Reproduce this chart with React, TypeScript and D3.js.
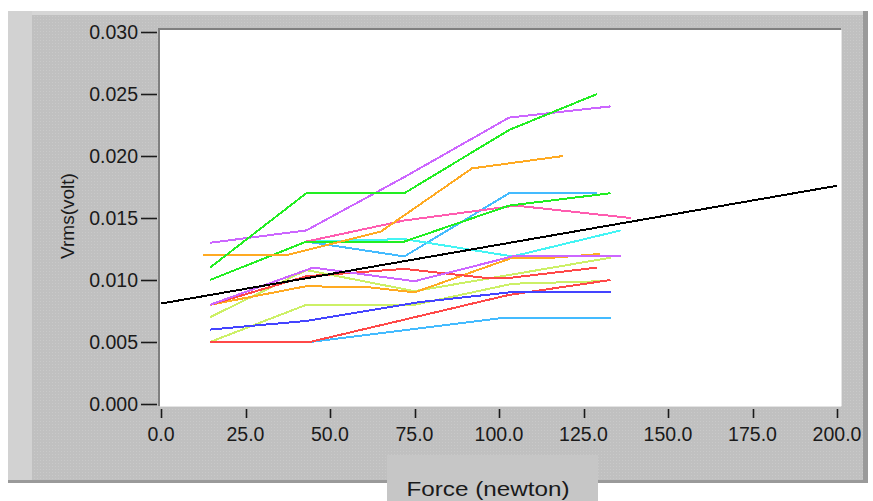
import React from "react";
import * as d3 from "d3";

// Tick values
const forceTicks = [0, 25, 50, 75, 100, 125, 150, 175, 200];
const voltTicks = [0, 0.005, 0.01, 0.015, 0.02, 0.025, 0.03];

// Measured curves: [force (N), Vrms (V)]
const greenUpper = [[14.5, 0.011], [43, 0.017], [72, 0.017], [103, 0.0221], [129, 0.025]];
const violetUpper = [[14.5, 0.013], [43, 0.014], [72, 0.0183], [103, 0.0231], [133, 0.024]];
const orangeUpper = [[12.5, 0.012], [37, 0.012], [65, 0.0139], [92, 0.019], [119, 0.02]];
const skyUpper = [[43, 0.0131], [72, 0.0119], [103, 0.017], [129, 0.017]];
const pink = [[14.5, 0.01], [43, 0.0131], [72, 0.0148], [105, 0.016], [139, 0.015]];
const greenMid = [[14.5, 0.01], [43, 0.0131], [72, 0.0131], [103, 0.016], [133, 0.017]];
const cyan = [[43, 0.0131], [72, 0.0133], [104, 0.0119], [136, 0.014]];
const violetLower = [[14.5, 0.008], [45, 0.011], [75, 0.0099], [104, 0.0119], [136, 0.0119]];
const redUpper = [[14.5, 0.008], [43, 0.0103], [72, 0.0109], [95, 0.0102], [104, 0.0102], [129, 0.011]];
const orangeLower = [[14.5, 0.008], [43, 0.0095], [62, 0.0094], [75, 0.009], [104, 0.0118], [116, 0.0118], [130, 0.0121]];
const limeUpper = [[14.5, 0.007], [43, 0.0108], [75, 0.0091], [133, 0.0118]];
const limeLower = [[14.5, 0.005], [43, 0.008], [75, 0.008], [104, 0.0097], [130, 0.0099]];
const blue = [[14.5, 0.006], [43, 0.0067], [76, 0.0082], [103, 0.009], [133, 0.009]];
const skyLower = [[14.5, 0.005], [44, 0.005], [100, 0.0069], [133, 0.0069]];
const redLower = [[14.5, 0.005], [44, 0.005], [103, 0.0088], [133, 0.01]];
const fitLine = [[0, 0.0081], [200, 0.0176]];

const curves: { data: number[][]; color: string }[] = [
  { data: skyUpper, color: "#44bbff" },
  { data: cyan, color: "#44f4f4" },
  { data: pink, color: "#ff5cb0" },
  { data: greenMid, color: "#22ee22" },
  { data: orangeUpper, color: "#ffaa22" },
  { data: violetUpper, color: "#cc66ff" },
  { data: greenUpper, color: "#22ee22" },
  { data: limeLower, color: "#ccf066" },
  { data: skyLower, color: "#44bbff" },
  { data: redLower, color: "#ff4848" },
  { data: blue, color: "#4444ff" },
  { data: limeUpper, color: "#ccf066" },
  { data: orangeLower, color: "#ffaa22" },
  { data: redUpper, color: "#ff4848" },
  { data: violetLower, color: "#cc66ff" },
  { data: fitLine, color: "#000000" },
];

const W = 873;
const H = 501;
const plot = { left: 160, top: 30, right: 841, bottom: 406 };

const x = d3.scaleLinear().domain([0, 200]).range([161, 837]);
const y = d3.scaleLinear().domain([0, 0.03]).range([404, 32]);

const line = d3
  .line<number[]>()
  .x((d) => x(d[0]))
  .y((d) => y(d[1]));

const font = "'Liberation Sans', Arial, sans-serif";

export default function App() {
  return (
    <svg
      width={W}
      height={H}
      style={{ position: "absolute", left: 0, top: 0 }}
      fontFamily={font}
    >
      <defs>
        <pattern id="dots" width="3" height="3" patternUnits="userSpaceOnUse">
          <rect width="3" height="3" fill="#c0c0c0" />
          <rect x="1" y="1" width="1" height="1" fill="#c9c9c9" />
        </pattern>
      </defs>
      <rect width={W} height={H} fill="#ffffff" />
      {/* panel */}
      <rect x={8} y={11} width={860} height={472} fill="url(#dots)" />
      <rect x={8} y={11} width={860} height={4} fill="#d6d6d6" />
      <rect x={8} y={11} width={24} height={472} fill="#d2d2d2" />
      <rect x={863} y={11} width={5} height={472} fill="#9a9a9a" />
      <rect x={8} y={480} width={860} height={3} fill="#9a9a9a" />

      {/* plot area */}
      <rect
        x={plot.left}
        y={plot.top}
        width={plot.right - plot.left}
        height={plot.bottom - plot.top}
        fill="#ffffff"
      />
      <line x1={plot.left - 1} x2={plot.left - 1} y1={plot.top - 2} y2={plot.bottom} stroke="#7f7f7f" strokeWidth={2} />
      <line x1={plot.left - 2} x2={plot.right} y1={plot.top - 1} y2={plot.top - 1} stroke="#7f7f7f" strokeWidth={2} />
      <line x1={plot.right + 0.5} x2={plot.right + 0.5} y1={plot.top} y2={plot.bottom} stroke="#e4e4e4" />
      <line x1={plot.left} x2={plot.right} y1={plot.bottom + 0.5} y2={plot.bottom + 0.5} stroke="#e4e4e4" />

      {/* curves */}
      <g fill="none" shapeRendering="crispEdges">
        {curves.map((c, i) => (
          <path key={i} d={line(c.data as any) || ""} stroke={c.color} strokeWidth={2} />
        ))}
      </g>

      {/* y axis */}
      <g>
        {voltTicks.map((t) => (
          <g key={t}>
            <line x1={141} x2={157} y1={Math.round(y(t)) + 0.5} y2={Math.round(y(t)) + 0.5} stroke="#1a1a1a" strokeWidth={1.6} />
            <text x={138} y={y(t) + 7} textAnchor="end" fontSize={19.5} fill="#1a1a1a">
              {t.toFixed(3)}
            </text>
          </g>
        ))}
      </g>

      {/* x axis */}
      <g>
        {forceTicks.map((t) => (
          <g key={t}>
            <line x1={Math.round(x(t)) + 0.5} x2={Math.round(x(t)) + 0.5} y1={409} y2={418} stroke="#1a1a1a" strokeWidth={1.6} />
            <text x={x(t)} y={441} textAnchor="middle" fontSize={19.5} fill="#1a1a1a">
              {t.toFixed(1)}
            </text>
          </g>
        ))}
      </g>

      {/* axis titles */}
      <text
        transform={`translate(74, 216) rotate(-90)`}
        textAnchor="middle"
        fontSize={19}
        fill="#1a1a1a"
      >
        Vrms(volt)
      </text>
      <rect x={387} y={455} width={211} height={46} fill="#c6c6c6" />
      <text
        x={488}
        y={496}
        textAnchor="middle"
        fontSize={21}
        fill="#1a1a1a"
        textLength={163}
        lengthAdjust="spacingAndGlyphs"
      >
        Force (newton)
      </text>
    </svg>
  );
}
